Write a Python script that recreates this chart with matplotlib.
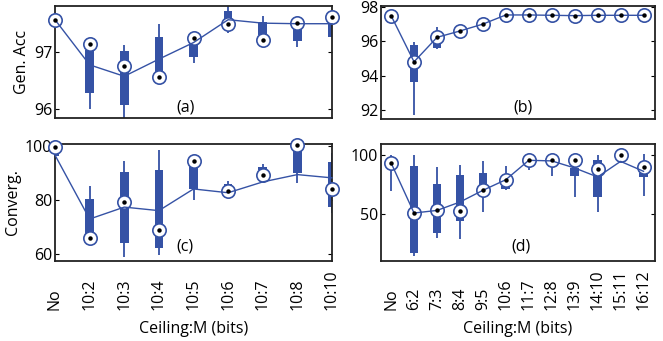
import numpy as np
import matplotlib
matplotlib.use("Agg")
import matplotlib.pyplot as plt

plt.rcParams['font.family'] = ['Open Sans', 'DejaVu Sans']

BLUE = '#3552a5'

# ---------------- data ----------------
cats_left = ['No', '10:2', '10:3', '10:4', '10:5', '10:6', '10:7', '10:8', '10:10']
cats_right = ['No', '6:2', '7:3', '8:4', '9:5', '10:6', '11:7', '12:8', '13:9',
              '14:10', '15:11', '16:12']

# (a) Gen. Acc, left settings
a_marker = [97.57, 97.14, 96.76, 96.57, 97.25, 97.50, 97.21, 97.51, 97.61]
a_line = [97.57, 96.78, 96.58, 96.88, 97.17, 97.57, 97.51, 97.50, 97.50]
a_q1 = [97.55, 96.28, 96.07, 96.55, 96.91, 97.54, 97.30, 97.20, 97.27]
a_q3 = [97.60, 97.04, 97.03, 97.26, 97.19, 97.73, 97.53, 97.49, 97.60]
a_min = [97.55, 96.00, 95.80, 96.55, 96.81, 97.33, 97.21, 97.10, 97.27]
a_max = [97.60, 97.10, 97.13, 97.50, 97.25, 97.90, 97.64, 97.55, 97.62]

# (b) Gen. Acc, right settings
b_marker = [97.48, 94.80, 96.22, 96.59, 96.99, 97.52, 97.52, 97.50, 97.48, 97.50, 97.50, 97.50]
b_line = [97.48, 94.80, 96.22, 96.59, 96.99, 97.52, 97.52, 97.50, 97.48, 97.50, 97.50, 97.50]
b_q1 = [97.45, 93.64, 95.58, 96.55, 96.95, 97.48, 97.48, 97.47, 97.45, 97.47, 97.47, 97.47]
b_q3 = [97.50, 95.77, 96.10, 96.62, 97.02, 97.55, 97.55, 97.53, 97.51, 97.53, 97.53, 97.53]
b_min = [97.40, 91.70, 95.55, 96.45, 96.60, 97.45, 97.45, 97.44, 97.42, 97.44, 97.44, 97.44]
b_max = [97.55, 95.97, 96.80, 96.75, 97.10, 97.58, 97.58, 97.56, 97.54, 97.56, 97.56, 97.56]

# (c) Converg., left settings
c_marker = [99.5, 65.8, 79.0, 68.9, 94.2, 83.1, 89.3, 100.3, 84.0]
c_line = [96.5, 72.9, 77.3, 76.0, 84.0, 82.6, 86.6, 89.3, 88.1]
c_q1 = [96.0, 66.4, 64.0, 62.1, 84.0, 83.7, 91.1, 89.9, 77.3]
c_q3 = [100.4, 80.3, 90.4, 90.9, 93.6, 85.9, 92.0, 99.1, 94.0]
c_min = [95.1, 65.8, 59.0, 59.6, 80.0, 83.0, 89.3, 86.2, 75.1]
c_max = [100.4, 85.2, 94.2, 98.3, 94.2, 86.8, 93.2, 100.3, 97.3]

# (d) Converg., right settings
d_marker = [93.0, 50.6, 52.8, 51.9, 69.8, 78.8, 95.2, 95.8, 95.2, 88.1, 99.4, 89.6]
d_line = [93.0, 50.6, 52.8, 59.9, 69.8, 78.8, 95.2, 94.7, 88.7, 81.1, 94.3, 85.9]
d_q1 = [87.5, 16.7, 33.6, 43.5, 73.1, 71.0, 94.0, 95.0, 81.6, 64.1, 98.5, 80.8]
d_q3 = [93.5, 90.7, 75.2, 83.0, 84.5, 73.2, 95.5, 96.0, 88.7, 95.2, 99.5, 84.5]
d_min = [68.9, 14.4, 29.4, 28.6, 51.1, 70.0, 87.3, 81.6, 64.1, 51.1, 97.0, 65.3]
d_max = [100.0, 100.0, 89.5, 91.5, 94.3, 90.7, 96.0, 96.5, 95.5, 100.0, 100.0, 100.8]

# ---------------- figure ----------------
W, H = 663, 341
fig = plt.figure(figsize=(W / 100, H / 100), dpi=100)


def px_axes(l, t, r, b):
    return fig.add_axes([l / W, 1 - b / H, (r - l) / W, (b - t) / H])


ax_a = px_axes(55, 6, 332, 118)
ax_b = px_axes(381, 6, 655, 119)
ax_c = px_axes(55, 144, 332, 261)
ax_d = px_axes(381, 144, 655, 261)


def draw(ax, cats, mn, mx, q1, q3, line, marker, width):
    x = np.arange(1, len(cats) + 1)
    q1 = np.asarray(q1)
    q3 = np.asarray(q3)
    ax.vlines(x, mn, mx, color=BLUE, lw=1.3, zorder=2)
    ax.bar(x, q3 - q1, bottom=q1, width=width, color=BLUE, zorder=2)
    ax.plot(x, marker, 'o', ms=9.6, mfc='white', mec=BLUE, mew=1.2,
            clip_on=False, zorder=4)
    ax.plot(x, line, '-', color=BLUE, lw=1.0, zorder=5, clip_on=False)
    ax.plot(x, marker, 'o', ms=3.2, color='black', mec='none',
            clip_on=False, zorder=6)
    for s in ax.spines.values():
        s.set_linewidth(1.3)
        s.set_color('#222222')
    ax.tick_params(axis='y', direction='in', right=True, length=3,
                   labelsize=11.5, pad=2)
    ax.tick_params(axis='x', length=0)
    return x


xa = draw(ax_a, cats_left, a_min, a_max, a_q1, a_q3, a_line, a_marker, 0.25)
ax_a.set_xlim(1, 9)
ax_a.set_ylim(95.85, 97.81)
ax_a.set_yticks([96, 97])
ax_a.set_xticks(xa)
ax_a.set_xticklabels([])
ax_a.set_ylabel('Gen. Acc', fontsize=11.5, labelpad=3)
ax_a.text(0.47, 0.09, '(a)', transform=ax_a.transAxes, ha='center',
          va='center', fontsize=11.5)

xb = draw(ax_b, cats_right, b_min, b_max, b_q1, b_q3, b_line, b_marker, 0.38)
ax_b.set_xlim(0.56, 12.5)
ax_b.set_ylim(91.48, 98.04)
ax_b.set_yticks([92, 94, 96, 98])
ax_b.set_xticks(xb)
ax_b.set_xticklabels([])
ax_b.text(0.52, 0.1, '(b)', transform=ax_b.transAxes, ha='center',
          va='center', fontsize=11.5)

xc = draw(ax_c, cats_left, c_min, c_max, c_q1, c_q3, c_line, c_marker, 0.25)
ax_c.set_xlim(1, 9)
ax_c.set_ylim(57.4, 100.6)
ax_c.set_yticks([60, 80, 100])
ax_c.set_xticks(xc)
ax_c.set_xticklabels(cats_left, rotation=90, va='bottom', fontsize=11.5)
ax_c.tick_params(axis='x', pad=35)
ax_c.set_ylabel('Converg.', fontsize=11.5, labelpad=3)
ax_c.set_xlabel('Ceiling:M (bits)', fontsize=11.5, labelpad=8)
ax_c.text(0.47, 0.12, '(c)', transform=ax_c.transAxes, ha='center',
          va='center', fontsize=11.5)

xd = draw(ax_d, cats_right, d_min, d_max, d_q1, d_q3, d_line, d_marker, 0.38)
ax_d.set_xlim(0.56, 12.5)
ax_d.set_ylim(10, 109)
ax_d.set_yticks([50, 100])
ax_d.set_xticks(xd)
ax_d.set_xticklabels(cats_right, rotation=90, va='bottom', fontsize=11.5)
ax_d.tick_params(axis='x', pad=35)
ax_d.set_xlabel('Ceiling:M (bits)', fontsize=11.5, labelpad=8)
ax_d.text(0.51, 0.12, '(d)', transform=ax_d.transAxes, ha='center',
          va='center', fontsize=11.5)

fig.savefig('out.png', dpi=100)
